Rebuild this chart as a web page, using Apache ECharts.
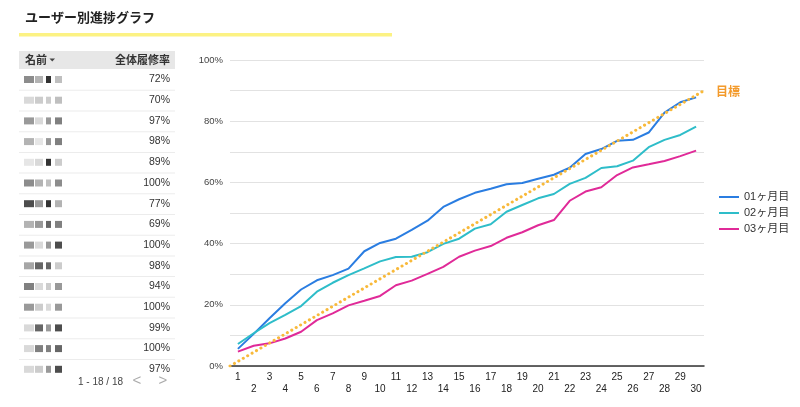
<!DOCTYPE html>
<html><head><meta charset="utf-8">
<script src="https://cdn.jsdelivr.net/npm/echarts@6/dist/echarts.min.js"></script>
<style>html,body{margin:0;padding:0;background:#fff}#c{width:800px;height:407px}</style>
</head><body><div id="c"></div>
<script>
const days = ['1','2','3','4','5','6','7','8','9','10','11','12','13','14','15','16','17','18','19','20','21','22','23','24','25','26','27','28','29','30'];
const month1 = [5.6,10.5,15.6,20.5,25,28,29.7,31.8,37.5,40.2,41.6,44.5,47.5,52,54.5,56.6,57.9,59.4,59.8,61.2,62.5,64.8,69.3,70.9,73.6,73.9,76.3,82.8,86.2,87.8];
const month2 = [7.2,10.7,14,16.7,19.6,24.3,27.2,29.7,31.9,34.2,35.6,35.7,37.2,39.9,41.6,44.9,46.3,50.4,52.6,54.8,56.2,59.5,61.5,64.7,65.3,67.1,71.5,73.9,75.5,78.2];
const month3 = [4.7,6.6,7.4,9,11.2,15,17.2,19.8,21.3,22.9,26.4,27.9,30.1,32.4,35.7,37.7,39.2,41.9,43.7,46,47.7,54,57,58.4,62.4,64.9,65.9,67,68.6,70.4];
const targetLine = [[0,0],[30,90]];
const seriesNames = ['01ヶ月目','02ヶ月目','03ヶ月目'];
const rates = [72,70,97,98,89,100,77,69,100,98,94,100,99,100,97];
const nameShades = [[0.55,0.7,0.2,0.75],[0.85,0.8,0.8,0.75],[0.6,0.85,0.6,0.5],[0.7,0.9,0.6,0.5],[0.9,0.85,0.2,0.8],[0.55,0.7,0.75,0.55],[0.3,0.6,0.2,0.7],[0.7,0.6,0.4,0.5],[0.6,0.85,0.6,0.3],[0.65,0.4,0.4,0.8],[0.5,0.85,0.8,0.6],[0.6,0.8,0.85,0.6],[0.85,0.4,0.6,0.3],[0.85,0.5,0.5,0.4],[0.85,0.8,0.6,0.3]];

const FONT = '"Liberation Sans","Noto Sans CJK JP",sans-serif';
const chart = echarts.init(document.getElementById('c'));

const graphic = [
  {type:'text', left:25, top:11, style:{text:'ユーザー別進捗グラフ', font:'bold 13px "Noto Sans CJK JP"', fill:'#222'}},
  {type:'rect', shape:{x:19, y:33, width:373, height:3.5}, style:{fill:'#fcf283'}},
  {type:'rect', shape:{x:19, y:51, width:156, height:18}, style:{fill:'#e7e7e7'}},
  {type:'text', x:25, y:60, style:{text:'名前', font:'bold 11px "Noto Sans CJK JP"', fill:'#333', verticalAlign:'middle'}},
  {type:'polygon', shape:{points:[[49.5,58.5],[55,58.5],[52.25,61.5]]}, style:{fill:'#444'}},
  {type:'text', x:170, y:60, style:{text:'全体履修率', font:'bold 11px "Noto Sans CJK JP"', fill:'#333', align:'right', verticalAlign:'middle'}},
  {type:'text', x:78, y:382, style:{text:'1 - 18 / 18', font:'10px '+FONT, fill:'#444', verticalAlign:'middle'}},
  {type:'text', x:137, y:381, style:{text:'<', font:'15px '+FONT, fill:'#aaa', align:'center', verticalAlign:'middle'}},
  {type:'text', x:163, y:381, style:{text:'>', font:'15px '+FONT, fill:'#aaa', align:'center', verticalAlign:'middle'}}
];
rates.forEach((r,i)=>{
  const cy = 79.5 + i*20.7;
  graphic.push({type:'text', x:170, y:cy, style:{text:r+'%', font:'10.5px '+FONT, fill:'#333', align:'right', verticalAlign:'middle'}});
  if (i < rates.length-1) graphic.push({type:'rect', shape:{x:19, y:cy+10.3, width:156, height:1}, style:{fill:'#ececec'}});
  const sh = nameShades[i];
  const offs = [[24,10],[35,8],[46,5],[55,7]];
  offs.forEach((o,k)=>{
    const g = Math.round(sh[k]*255);
    graphic.push({type:'rect', shape:{x:o[0], y:cy-3.5, width:o[1], height:7}, style:{fill:'rgb('+g+','+g+','+g+')'}});
  });
});

chart.setOption({
  animation:false,
  textStyle:{fontFamily:FONT},
  graphic: graphic,
  grid:{left:230, right:96, top:60, bottom:41, containLabel:false},
  legend:{orient:'vertical', left:714, top:186, icon:'rect', itemWidth:20, itemHeight:2, itemGap:4,
    data:seriesNames, textStyle:{fontSize:11, color:'#333', lineHeight:12, fontFamily:FONT}},
  xAxis:[
    {type:'category', data:days, boundaryGap:true,
      axisLine:{lineStyle:{color:'#333', width:1.5}}, axisTick:{show:false},
      axisLabel:{interval:0, fontSize:10, color:'#222', margin:5, lineHeight:12,
        formatter:(v,i)=> (i%2===0 ? v : '\n'+v)}},
    {type:'value', min:0, max:30, show:false}
  ],
  yAxis:{type:'value', min:0, max:100, interval:20,
    axisLine:{show:false}, axisTick:{show:false},
    axisLabel:{fontSize:9.5, color:'#444', margin:7, formatter:'{value}%'},
    splitLine:{lineStyle:{color:'#e2e2e2', width:1.2}},
    minorTick:{show:false, splitNumber:2},
    minorSplitLine:{show:true, lineStyle:{color:'#e2e2e2', width:1.2}}},
  series:[
    {name:'目標', type:'line', xAxisIndex:1, data:targetLine, showSymbol:false, z:5,
      lineStyle:{color:'#f8b93a', width:3, type:[0.1,5], cap:'round'},
      endLabel:{show:true, formatter:'目標', color:'#f39a2b', fontSize:12, fontWeight:'bold', fontFamily:'"Noto Sans CJK JP"', offset:[4,1]}},
    {name:seriesNames[0], type:'line', data:month1, showSymbol:false, itemStyle:{color:'#2a7de1'}, lineStyle:{color:'#2a7de1', width:2}},
    {name:seriesNames[1], type:'line', data:month2, showSymbol:false, itemStyle:{color:'#2ebdc9'}, lineStyle:{color:'#2ebdc9', width:2}},
    {name:seriesNames[2], type:'line', data:month3, showSymbol:false, itemStyle:{color:'#e02a98'}, lineStyle:{color:'#e02a98', width:2}}
  ]
});
</script></body></html>
